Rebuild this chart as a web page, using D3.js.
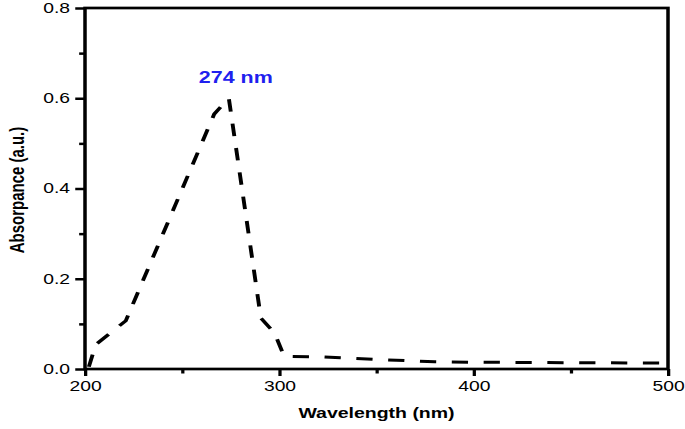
<!DOCTYPE html>
<html>
<head>
<meta charset="utf-8">
<script src="https://cdn.jsdelivr.net/npm/d3@7"></script>
<style>
  html, body { margin: 0; padding: 0; background: #fff; }
  svg { display: block; }
  text { font-family: "Liberation Sans", Arial, sans-serif; fill: #000; }
</style>
</head>
<body>
<svg id="chart"></svg>
<script>
/* UV-Vis absorbance spectrum, peak at 274 nm.
   The source figure is stretched ~1.3x horizontally, so we draw in a narrower
   user space and let the viewBox stretch it (dashes, strokes and text included). */
(function () {
  "use strict";
  var W = 685, H = 429, SX = 1.3;
  var UW = W / SX;

  var wavelength = [202, 205.5, 221, 266.5, 274, 290.5, 297.5, 302.5, 320, 350, 380, 400, 450, 500];
  var absorbance = [0.005, 0.054, 0.107, 0.565, 0.6, 0.113, 0.08, 0.028, 0.027, 0.021, 0.016, 0.015, 0.014, 0.013];
  var xMajor = [200, 300, 400, 500], xMinor = [250, 350, 450];
  var yMajor = [0, 0.2, 0.4, 0.6, 0.8], yMinor = [0.1, 0.3, 0.5, 0.7];
  var peakLabel = "274 nm", peakAt = [274, 0.6];

  var L = 85 / SX, R = 668 / SX, T = 8, B = 369;
  var x = d3.scaleLinear().domain([200, 500]).range([L, R]);
  var y = d3.scaleLinear().domain([0, 0.8]).range([B, T]);

  var svg = d3.select("#chart").attr("width", W).attr("height", H)
    .attr("viewBox", "0 0 " + UW + " " + H).attr("preserveAspectRatio", "none");

  // tick labels in the source are a touch wider than even the stretched font
  function widen(sel, k) {
    sel.each(function () {
      var w = this.getComputedTextLength();
      d3.select(this).attr("textLength", w * k).attr("lengthAdjust", "spacingAndGlyphs");
    });
  }

  // data line
  var line = d3.line().x(function (d) { return x(d[0]); }).y(function (d) { return y(d[1]); });
  svg.append("path").datum(wavelength.map(function (w, i) { return [w, absorbance[i]]; }))
    .attr("d", line).attr("fill", "none").attr("stroke", "#000")
    .attr("stroke-width", 3).attr("stroke-dasharray", "12.5,12");

  // frame
  svg.append("rect").attr("x", L).attr("y", T).attr("width", R - L).attr("height", B - T)
    .attr("fill", "none").attr("stroke", "#000").attr("stroke-width", 2.7);

  // axes
  var gx = svg.append("g").attr("transform", "translate(0," + B + ")");
  gx.call(d3.axisBottom(x).tickValues(xMajor).tickSize(7).tickFormat(d3.format("d")));
  var gxm = svg.append("g").attr("transform", "translate(0," + B + ")");
  gxm.call(d3.axisBottom(x).tickValues(xMinor).tickSize(4.5).tickFormat(""));
  var gy = svg.append("g").attr("transform", "translate(" + L + ",0)");
  gy.call(d3.axisLeft(y).tickValues(yMajor).tickSize(7.5).tickFormat(d3.format(".1f")));
  var gym = svg.append("g").attr("transform", "translate(" + L + ",0)");
  gym.call(d3.axisLeft(y).tickValues(yMinor).tickSize(4.5).tickFormat(""));

  svg.selectAll(".domain").remove();
  svg.selectAll(".tick line").attr("stroke", "#000").attr("stroke-width", 2.5);
  gx.selectAll(".tick text").attr("font-size", 14).attr("dy", null).attr("y", 22.5).call(widen, 1.06);
  gy.selectAll(".tick text").attr("font-size", 14).attr("x", -11.5).call(widen, 1.06);

  // titles
  svg.append("text").attr("x", (L + R) / 2).attr("y", 418).attr("text-anchor", "middle")
    .attr("font-size", 15).attr("font-weight", "bold").text("Wavelength (nm)");
  svg.append("text").attr("transform", "translate(" + (24 / SX) + ",190) rotate(-90)")
    .attr("text-anchor", "middle").attr("font-size", 15).attr("font-weight", "bold")
    .text("Absorpance (a.u.)");

  // peak annotation
  svg.append("text").attr("x", x(peakAt[0]) + 7 / SX).attr("y", 83).attr("text-anchor", "middle")
    .attr("font-size", 16.5).attr("font-weight", "bold").style("fill", "#2020ee").text(peakLabel);
})();
</script>
</body>
</html>
